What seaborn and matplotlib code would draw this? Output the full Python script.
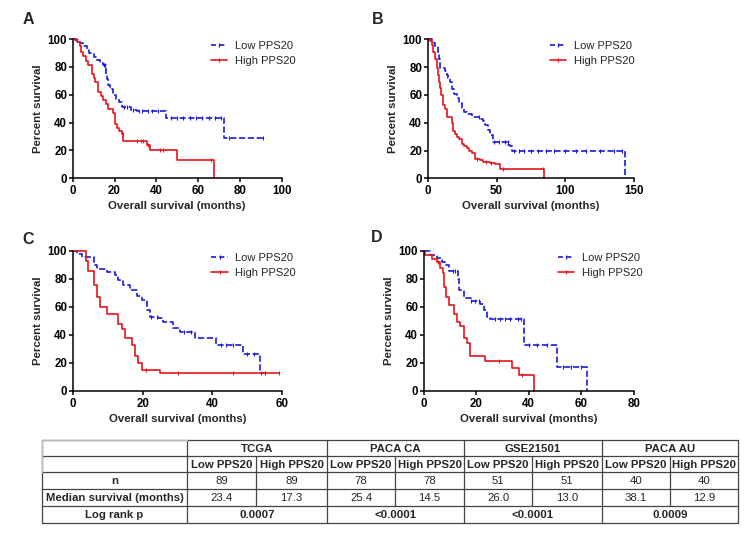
import numpy as np
import pandas as pd
import matplotlib
matplotlib.use('Agg')
import matplotlib.pyplot as plt
from matplotlib.lines import Line2D
import seaborn as sns

# Kaplan-Meier step values (time in months, percent survival)

# Panel A - TCGA
a_low_t = [0, 1, 2.5, 3.5, 5, 6.7, 8, 10, 11.5, 13, 14.7, 16, 16.5, 17, 18, 19.5, 20.5, 22, 23.5, 28, 30.6, 44.7, 72.4, 91]
a_low_s = [100, 99, 98, 97, 95, 92, 90, 87, 85, 83, 81, 74, 71, 67, 64, 60, 57, 55, 51, 49, 48, 43, 29, 29]
a_low_c = [15, 15.5, 24.5, 26, 29, 31.5, 33, 36, 38, 41, 47, 50, 53, 56, 59, 62, 65, 68, 71, 75, 91]
a_high_t = [0, 2, 3.5, 4, 5, 6.5, 7.5, 9, 10, 10.7, 12.3, 13.5, 14.7, 16, 17, 19.5, 20, 21, 22, 23.5, 24.2, 35.4, 37, 50, 67.7]
a_high_s = [100, 98, 95, 91, 88, 84, 81, 75, 72, 69, 62, 59, 56, 53, 50, 47, 39, 36, 34, 32, 27, 24, 20, 13, 0]
a_high_c = [24, 31, 32.5, 33.5, 36, 42, 43, 66]

# Panel B - PACA CA
b_low_t = [0, 3, 4.5, 5.3, 7.7, 8.5, 9, 12.6, 14, 15, 16, 17.4, 19, 21, 23, 24.7, 26, 28.3, 32, 38, 40, 41.6, 43.5, 45, 47.7, 58.6, 60, 61.5, 143]
b_low_s = [100, 99, 97, 95, 91, 86, 79, 77, 74, 72, 69, 64, 61, 58, 54, 50, 48, 46, 44, 43, 41, 38, 35, 31, 26, 24, 23, 20, 0]
b_low_c = [37, 48, 52, 56, 58, 63, 66, 70, 75, 80, 86, 92, 100, 108, 115, 125, 135, 141]
b_high_t = [0, 2, 3, 4, 5, 6.5, 7.5, 8.5, 9, 10, 11.4, 12.5, 13.8, 17.4, 18.6, 19.5, 21, 23, 24.7, 26.5, 28.3, 30, 32, 34.4, 38, 40.4, 45, 49, 52.5, 84.7]
b_high_s = [100, 99, 96, 91, 86, 79, 74, 69, 65, 60, 53, 50, 44, 40, 34, 32, 30, 28, 25, 23, 22, 20, 18, 14, 13, 12, 11, 10, 7, 0]
b_high_c = [36, 42, 46, 55, 84]

# Panel C - GSE21501
c_low_t = [0, 1.1, 2.6, 6.1, 6.9, 9.7, 12.1, 13.1, 14.5, 16.4, 18.3, 19.7, 21.2, 22.1, 24.5, 25.9, 28.8, 30.7, 35, 40.9, 48.8, 53.6, 55]
c_low_s = [100, 98, 96, 90, 87, 85, 83, 79, 76, 72, 68, 65, 58, 53, 52, 49, 45, 42, 38, 33, 26, 12.5, 12.5]
c_low_c = [22.5, 24, 32, 34, 42.5, 44, 46, 50, 52, 55]
c_high_t = [0, 3.8, 4.3, 6.1, 6.9, 7.8, 9.9, 13.1, 14, 15, 16.9, 17.8, 18.8, 19.7, 25, 59]
c_high_s = [100, 93, 86, 76, 67, 60, 55, 48, 44, 38, 33, 25, 20, 15, 12.5, 12.5]
c_high_c = [21, 30, 46, 54, 59]

# Panel D - PACA AU
d_low_t = [0, 2.5, 5, 7, 8.3, 9.5, 13.1, 13.6, 15.2, 18, 21.6, 23, 24, 25.4, 38.1, 50.8, 62.2]
d_low_s = [100, 97, 95, 92, 90, 86, 80, 72, 66, 64, 62, 58, 53, 51, 33, 17, 0]
d_low_c = [11, 12, 18, 19.5, 21, 27, 29, 31, 33, 36, 37, 40, 43, 47, 53, 56, 60]
d_high_t = [0, 0.6, 3, 5, 6.3, 7.2, 7.9, 8.5, 9.5, 11.4, 12.7, 14, 15.2, 16.5, 17.8, 23.5, 33.7, 36.2, 41.9]
d_high_s = [100, 97, 94, 92, 88, 84, 74, 67, 61, 55, 49, 46, 38, 34, 25, 21, 16, 11, 0]
d_high_c = [5.5, 28.6, 37.5]

# Table values
datasets = ['TCGA', 'PACA CA', 'GSE21501', 'PACA AU']
groups = ['Low PPS20', 'High PPS20']
n_values = ['89', '89', '78', '78', '51', '51', '40', '40']
median_values = ['23.4', '17.3', '25.4', '14.5', '26.0', '13.0', '38.1', '12.9']
logrank_values = ['0.0007', '<0.0001', '<0.0001', '0.0009']

LOW_COLOR = '#1a1adc'
HIGH_COLOR = '#e3161c'

sns.set_style('ticks')
plt.rcParams['font.family'] = ['Liberation Sans', 'DejaVu Sans']

W, H = 750, 534
fig = plt.figure(figsize=(W / 100, H / 100), dpi=100)


def px_axes(left, top, right, bottom):
    return fig.add_axes([left / W, 1 - bottom / H, (right - left) / W, (bottom - top) / H])


def step_value(t, times, surv):
    # value of the step function at time t
    i = np.searchsorted(times, t, side='right') - 1
    return surv[max(i, 0)]


# ---- Table (drawn first, underneath everything) ----
tab = fig.add_axes([0, 0, 1, 1])
tab.set_xlim(0, W)
tab.set_ylim(H, 0)
tab.axis('off')
tab.patch.set_visible(False)

col_edges = [42, 187, 256, 327, 395, 464, 532, 602, 670, 738]
row_edges = [440, 456, 472, 489, 506, 523]
line_kw = dict(color='#444444', lw=0.9)

for r, y in enumerate(row_edges):
    tab.plot([col_edges[0], col_edges[-1]], [y, y], **line_kw)
for r in range(len(row_edges) - 1):
    y0, y1 = row_edges[r], row_edges[r + 1]
    for c, x in enumerate(col_edges):
        if r in (0, 4) and c % 2 == 0 and c not in (0, 1, len(col_edges) - 1):
            continue
        tab.plot([x, x], [y0, y1], **line_kw)
# light top-left corner cell
tab.plot([col_edges[0], col_edges[1]], [row_edges[0], row_edges[0]], color='#bbbbbb', lw=1.0)
tab.plot([col_edges[0], col_edges[0]], [row_edges[0], row_edges[2]], color='#bbbbbb', lw=1.0)


def cell_text(r, c0, c1, txt, bold=False):
    x = (col_edges[c0] + col_edges[c1]) / 2
    y = (row_edges[r] + row_edges[r + 1]) / 2 + 0.5
    tab.text(x, y, txt, ha='center', va='center', fontsize=8.2,
             fontweight='bold' if bold else 'normal')


for k, name in enumerate(datasets):
    cell_text(0, 1 + 2 * k, 3 + 2 * k, name, bold=True)
    cell_text(4, 1 + 2 * k, 3 + 2 * k, logrank_values[k], bold=True)
    for g, grp in enumerate(groups):
        cell_text(1, 1 + 2 * k + g, 2 + 2 * k + g, grp, bold=True)
for j in range(8):
    cell_text(2, 1 + j, 2 + j, n_values[j])
    cell_text(3, 1 + j, 2 + j, median_values[j])
cell_text(2, 0, 1, 'n', bold=True)
cell_text(3, 0, 1, 'Median survival (months)', bold=True)
cell_text(4, 0, 1, 'Log rank p', bold=True)


# ---- Survival panels ----
def draw_panel(ax, low, high, xmax, xstep, legend_x):
    for (t, s, cens), color, ls in [(low, LOW_COLOR, '--'), (high, HIGH_COLOR, '-')]:
        df = pd.DataFrame({'time': t, 'surv': s})
        sns.lineplot(data=df, x='time', y='surv', estimator=None, sort=False,
                     drawstyle='steps-post', color=color, linestyle=ls,
                     dashes=(3, 2) if ls == '--' else (None, None),
                     lw=1.2, ax=ax, clip_on=False, legend=False)
        cy = [step_value(ct, t, s) for ct in cens]
        ax.plot(cens, cy, linestyle='none', marker='|', markersize=3,
                markeredgewidth=0.8, color=color, clip_on=False)
    ax.set_xlim(0, xmax)
    ax.set_ylim(0, 100)
    ax.set_xticks(np.arange(0, xmax + 1, xstep))
    ax.set_yticks(np.arange(0, 101, 20))
    ax.tick_params(direction='out', length=3, width=1.1, labelsize=8.3, colors='black')
    ax.tick_params(axis='x', pad=2)
    ax.tick_params(axis='y', pad=1)
    for lbl in ax.get_xticklabels() + ax.get_yticklabels():
        lbl.set_fontweight('bold')
    for sp in ['left', 'bottom']:
        ax.spines[sp].set_linewidth(1.1)
        ax.spines[sp].set_color('black')
    sns.despine(ax=ax)
    ax.set_xlabel('Overall survival (months)', fontsize=8.2, fontweight='bold', labelpad=3)
    ax.set_ylabel('Percent survival', fontsize=8.2, fontweight='bold', labelpad=3.5)
    handles = [Line2D([0], [0], color=LOW_COLOR, ls='--', dashes=(3, 2), lw=1.2,
                      marker='|', markersize=3.5, markeredgewidth=0.9),
               Line2D([0], [0], color=HIGH_COLOR, ls='-', lw=1.2,
                      marker='|', markersize=3.5, markeredgewidth=0.9)]
    ax.legend(handles, groups, loc='upper left', bbox_to_anchor=(legend_x, 0.985),
              frameon=False, fontsize=8, handlelength=1.45, handletextpad=0.7,
              borderaxespad=0, borderpad=0, labelspacing=0.4, numpoints=1)


ax_a = px_axes(72.7, 39, 281.7, 178.3)
draw_panel(ax_a, (a_low_t, a_low_s, a_low_c), (a_high_t, a_high_s, a_high_c), 100, 20, 0.662)
ax_b = px_axes(427.7, 39.3, 634.3, 178.3)
draw_panel(ax_b, (b_low_t, b_low_s, b_low_c), (b_high_t, b_high_s, b_high_c), 150, 50, 0.592)
ax_c = px_axes(72.7, 251, 282.3, 390.7)
draw_panel(ax_c, (c_low_t, c_low_s, c_low_c), (c_high_t, c_high_s, c_high_c), 60, 20, 0.662)
ax_d = px_axes(423.7, 251, 633.7, 390.7)
draw_panel(ax_d, (d_low_t, d_low_s, d_low_c), (d_high_t, d_high_s, d_high_c), 80, 20, 0.64)

for letter, x, y in [('A', 28, 20), ('B', 378, 20), ('C', 28, 239), ('D', 377, 237)]:
    fig.text(x / W, 1 - y / H, letter, fontsize=11.5, fontweight='bold', ha='center', va='center')

fig.savefig('out.png', dpi=100, facecolor='white')
